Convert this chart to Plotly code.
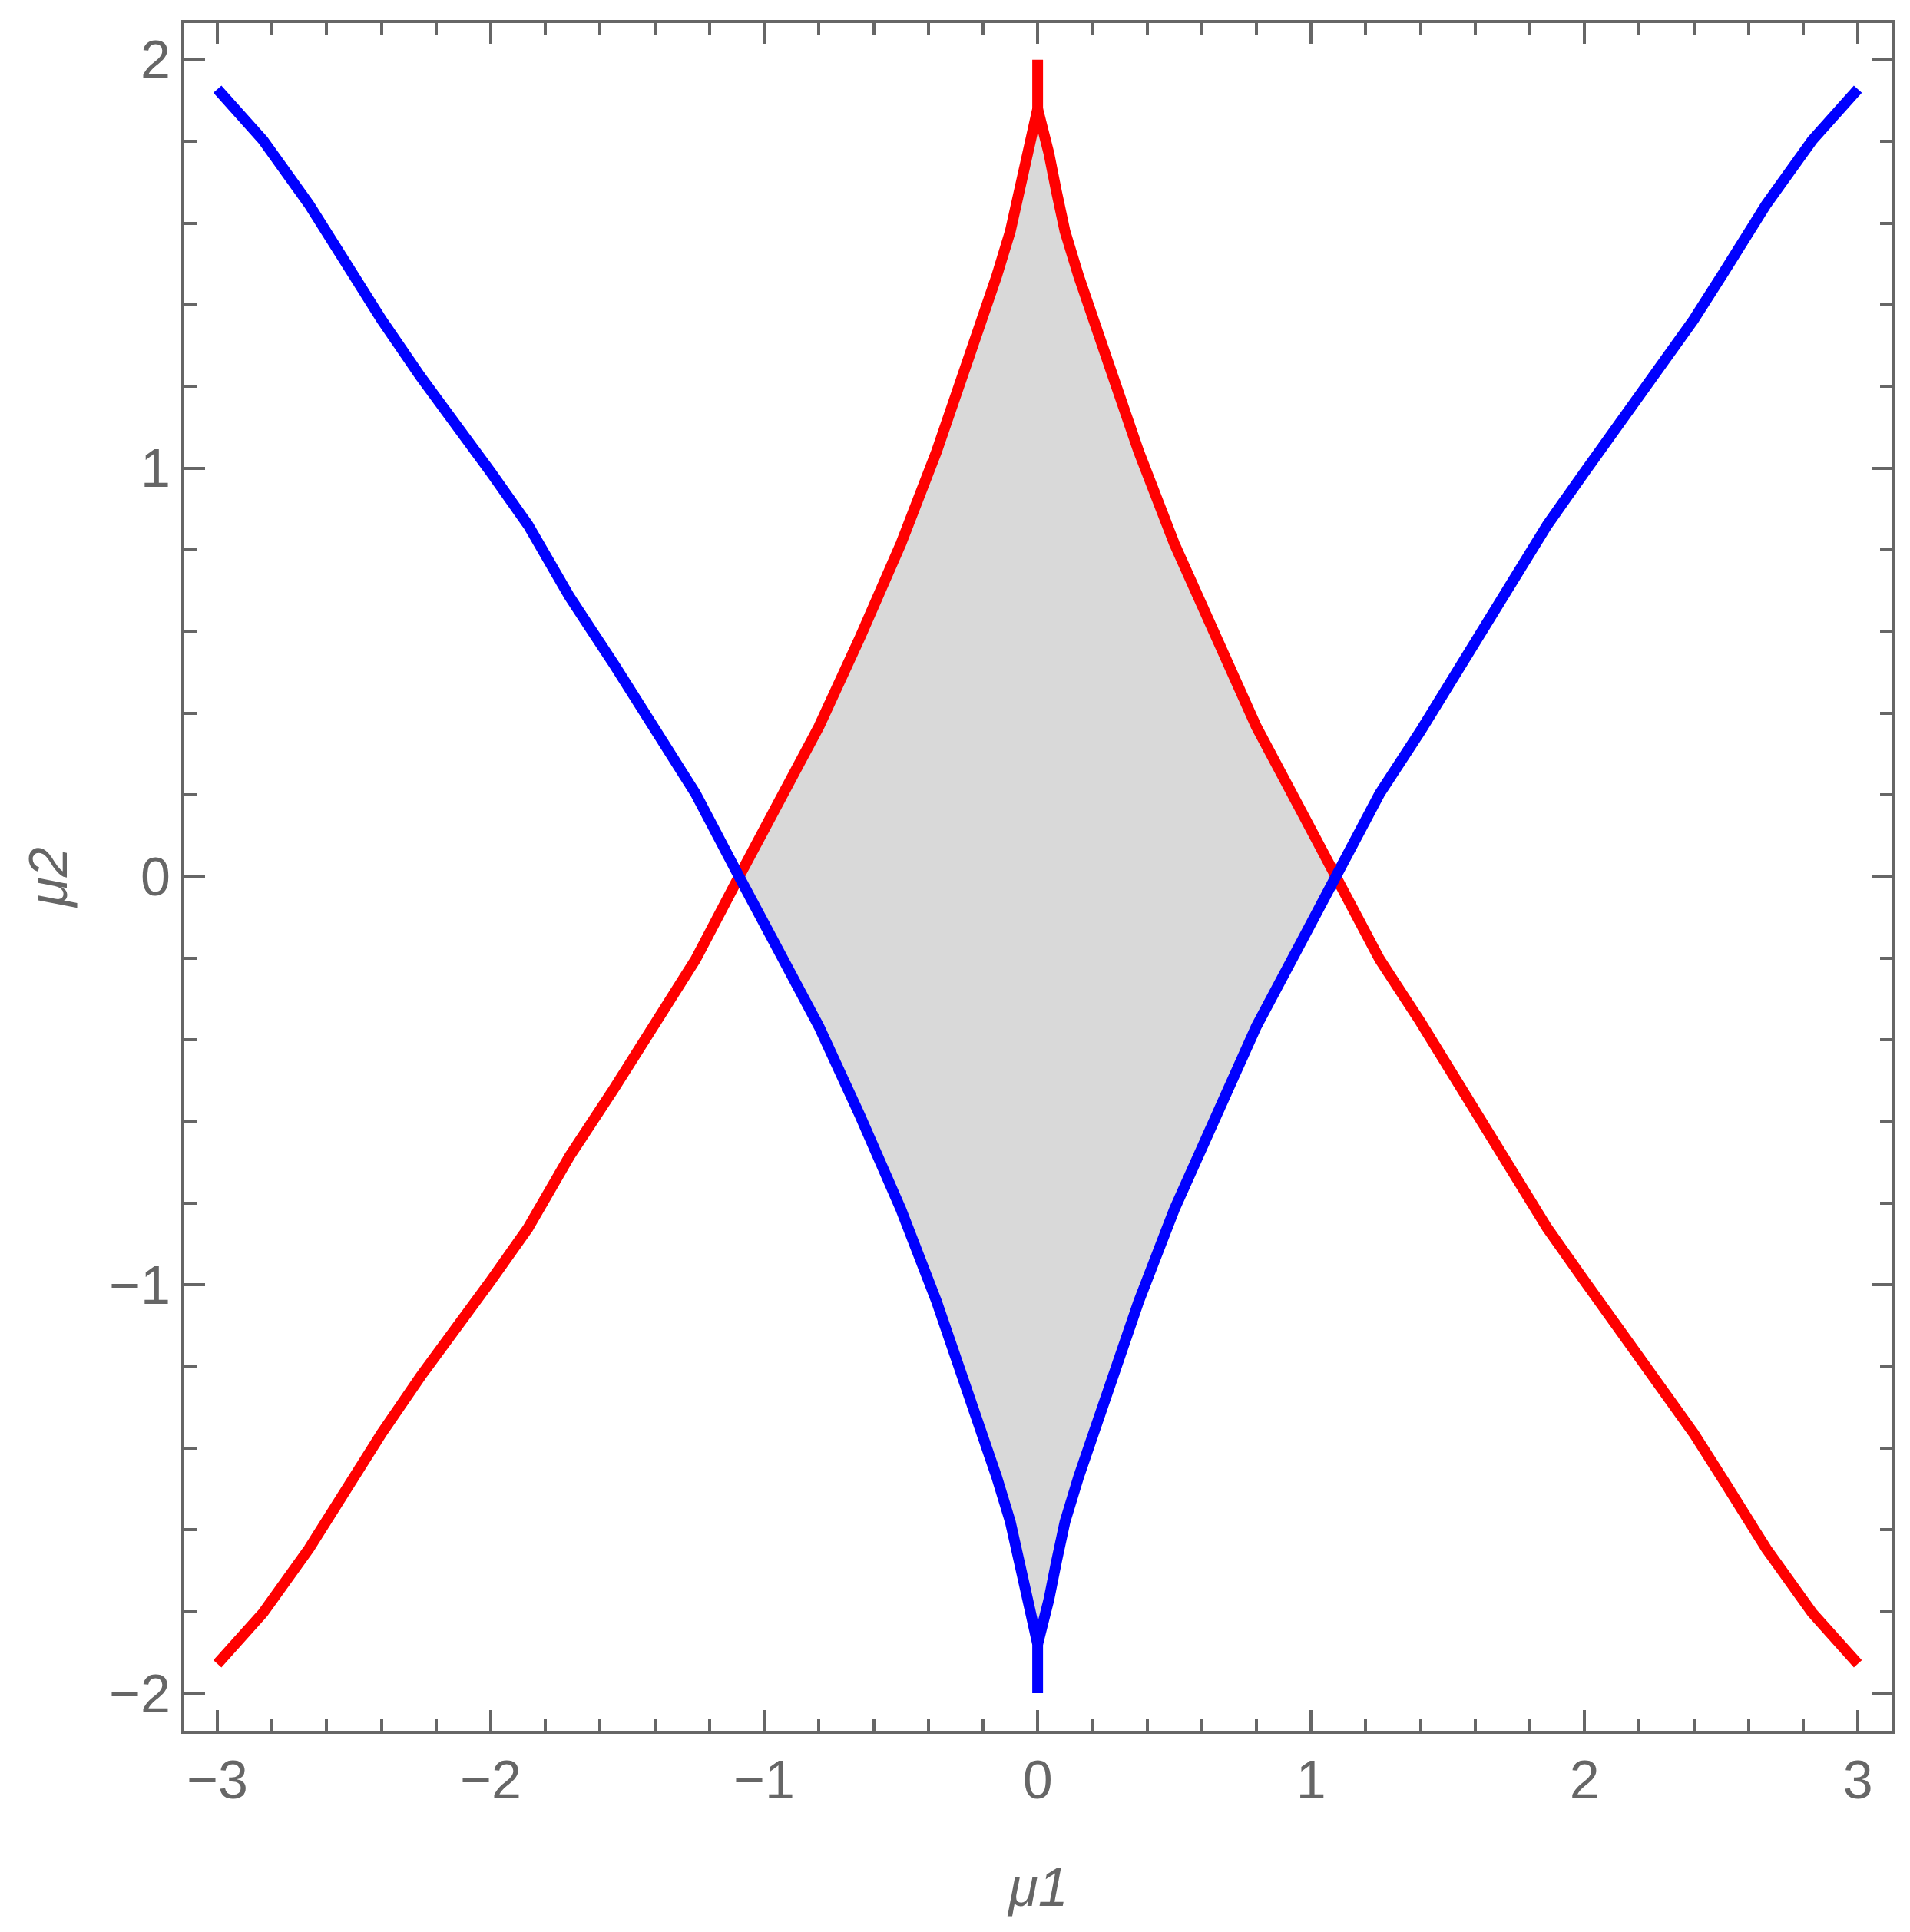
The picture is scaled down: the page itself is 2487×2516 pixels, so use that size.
import plotly.graph_objects as go

# ---- data ----
red_left_mu1 = [-3.0, -2.833, -2.665, -2.51, -2.399, -2.258, -2.143, -2.0, -1.864, -1.712,
                -1.55, -1.40, -1.251, -1.092, -0.954, -0.80, -0.65, -0.50, -0.37, -0.24,
                -0.15, -0.10, -0.069, -0.041, -0.02, 0.0, 0.0]
red_left_mu2 = [-1.928, -1.803, -1.646, -1.48, -1.363, -1.225, -1.125, -0.99, -0.861, -0.685,
                -0.52, -0.356, -0.203, 0.0, 0.173, 0.367, 0.585, 0.815, 1.04, 1.29,
                1.47, 1.58, 1.677, 1.771, 1.834, 1.88, 2.0]

red_right_mu1 = [0.0, 0.02, 0.041, 0.069, 0.10, 0.15, 0.24, 0.37, 0.50, 0.65, 0.80,
                 0.954, 1.092, 1.251, 1.40, 1.55, 1.712, 1.864, 2.0, 2.143, 2.258,
                 2.399, 2.51, 2.665, 2.833, 3.0]
red_right_mu2 = [1.88, 1.834, 1.771, 1.677, 1.58, 1.47, 1.29, 1.04, 0.815, 0.585, 0.367,
                 0.173, 0.0, -0.203, -0.356, -0.52, -0.685, -0.861, -0.99, -1.125, -1.225,
                 -1.363, -1.48, -1.646, -1.803, -1.928]

blue_left_mu1 = [-3.0, -2.833, -2.665, -2.51, -2.399, -2.258, -2.143, -2.0, -1.864, -1.712,
                 -1.55, -1.40, -1.251, -1.092, -0.954, -0.80, -0.65, -0.50, -0.37, -0.24,
                 -0.15, -0.10, -0.069, -0.041, -0.02, 0.0, 0.0]
blue_left_mu2 = [1.928, 1.803, 1.646, 1.48, 1.363, 1.225, 1.125, 0.99, 0.861, 0.685,
                 0.52, 0.356, 0.203, 0.0, -0.173, -0.367, -0.585, -0.815, -1.04, -1.29,
                 -1.47, -1.58, -1.677, -1.771, -1.834, -1.88, -2.0]

blue_right_mu1 = [0.0, 0.02, 0.041, 0.069, 0.10, 0.15, 0.24, 0.37, 0.50, 0.65, 0.80,
                  0.954, 1.092, 1.251, 1.40, 1.55, 1.712, 1.864, 2.0, 2.143, 2.258,
                  2.399, 2.51, 2.665, 2.833, 3.0]
blue_right_mu2 = [-1.88, -1.834, -1.771, -1.677, -1.58, -1.47, -1.29, -1.04, -0.815, -0.585, -0.367,
                  -0.173, 0.0, 0.203, 0.356, 0.52, 0.685, 0.861, 0.99, 1.125, 1.225,
                  1.363, 1.48, 1.646, 1.803, 1.928]

x_ticks = [-3, -2, -1, 0, 1, 2, 3]
y_ticks = [-2, -1, 0, 1, 2]
x_title = "<i>μ1</i>"
y_title = "<i>μ2</i>"

# ---- shaded region: between the red curves (upper) and the blue curves (lower) ----
def seg(xs, ys, cond):
    return [(a, b) for a, b in zip(xs, ys) if cond(a, b)]

upper_l = seg(red_left_mu1, red_left_mu2, lambda a, b: b >= 0 and b < 1.95)
upper_r = seg(red_right_mu1, red_right_mu2, lambda a, b: b >= 0)
lower_r = seg(blue_right_mu1[::-1], blue_right_mu2[::-1], lambda a, b: b <= 0)
lower_l = seg(blue_left_mu1[::-1], blue_left_mu2[::-1], lambda a, b: b <= 0 and b > -1.95)
poly = upper_l + upper_r + lower_r + lower_l
fill_x = [p[0] for p in poly]
fill_y = [p[1] for p in poly]

AX = "#666666"
FONT = "Liberation Sans, Arial, sans-serif"

fig = go.Figure()
fig.add_trace(go.Scatter(x=fill_x, y=fill_y, fill="toself", fillcolor="#d9d9d9",
                         mode="none", hoverinfo="skip", showlegend=False))
for xs, ys, col in [(red_left_mu1, red_left_mu2, "#ff0000"),
                    (red_right_mu1, red_right_mu2, "#ff0000"),
                    (blue_left_mu1, blue_left_mu2, "#0000ff"),
                    (blue_right_mu1, blue_right_mu2, "#0000ff")]:
    fig.add_trace(go.Scatter(x=xs, y=ys, mode="lines",
                             line=dict(color=col, width=14),
                             showlegend=False))

axis_common = dict(
    showgrid=False, zeroline=False, showline=True, linecolor=AX, linewidth=4,
    mirror="ticks", ticks="inside", ticklen=27, tickwidth=4, tickcolor=AX,
    tickfont=dict(family=FONT, size=70, color=AX),
)

fig.update_xaxes(range=[-3.121, 3.126], tickvals=x_ticks,
                 minor=dict(ticks="inside", ticklen=16, tickwidth=4, tickcolor=AX,
                            dtick=0.2, tick0=0),
                 title=dict(text=x_title, font=dict(family=FONT, size=70, color=AX), standoff=78),
                 **axis_common)
fig.update_yaxes(range=[-2.092, 2.09], tickvals=y_ticks,
                 minor=dict(ticks="inside", ticklen=16, tickwidth=4, tickcolor=AX,
                            dtick=0.2, tick0=0),
                 title=dict(text=y_title, font=dict(family=FONT, size=70, color=AX), standoff=33),
                 **axis_common)

fig.update_layout(width=2487, height=2516, plot_bgcolor="white", paper_bgcolor="white",
                  margin=dict(l=232, r=31, t=22, b=270, autoexpand=False), showlegend=False)

fig.write_html("out.html")
